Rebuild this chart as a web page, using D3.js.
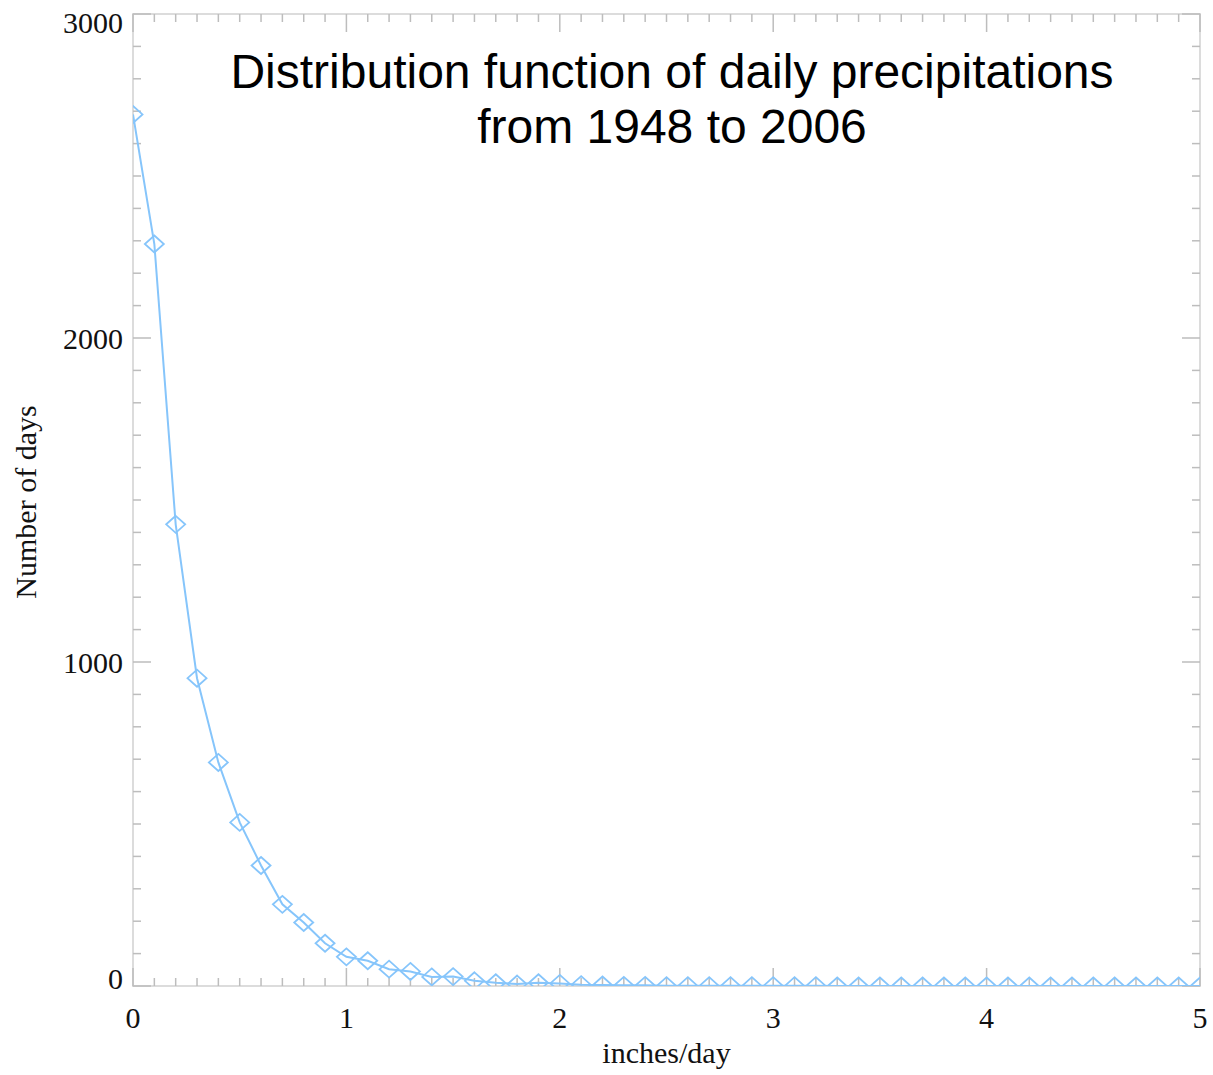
<!DOCTYPE html>
<html>
<head>
<meta charset="utf-8">
<script src="https://cdn.jsdelivr.net/npm/d3@7"></script>
<style>
  html, body { margin: 0; padding: 0; background: #fff; }
  svg { display: block; }
</style>
</head>
<body>
<svg id="chart" width="1213" height="1075"></svg>
<script>
// ---- data ----
const xValues = d3.range(0, 51).map(i => +(i * 0.1).toFixed(1));
const dayCounts = [
  2690, 2290, 1425, 950, 690, 505, 372, 252, 196, 132,
  90, 78, 52, 45, 28, 29, 16, 10, 6, 10,
  8, 4, 3, 2, 2, 1, 1, 1, 1, 1,
  1, 1, 1, 0, 0, 0, 0, 0, 0, 0,
  0, 0, 0, 0, 0, 0, 0, 0, 0, 0, 0
];
const xTickValues = [0, 1, 2, 3, 4, 5];
const yTickValues = [0, 1000, 2000, 3000];
const titleLines = ["Distribution function of daily precipitations", "from 1948 to 2006"];
const xTitle = "inches/day";
const yTitle = "Number of days";

// ---- layout ----
const pLeft = 133, pRight = 1200, pTop = 14, pBottom = 986;
const svg = d3.select("#chart");
const x = d3.scaleLinear().domain([0, 5]).range([pLeft, pRight]);
const y = d3.scaleLinear().domain([0, 3000]).range([pBottom, pTop]);

const frameColor = "#dcdcdc";
const tickColor = "#bdbdbd";
const serif = "'Liberation Serif', 'Times New Roman', serif";

// frame
svg.append("rect")
  .attr("x", pLeft).attr("y", pTop)
  .attr("width", pRight - pLeft).attr("height", pBottom - pTop)
  .attr("fill", "none").attr("stroke", frameColor).attr("stroke-width", 2);

// ticks (all four sides, inward)
const xMinor = d3.range(0, 51).map(i => i / 10);
const yMinor = d3.range(0, 31).map(i => i * 100);
const major = 18, minor = 8;
const tg = svg.append("g").attr("stroke", tickColor).attr("stroke-width", 1.5);
xMinor.forEach(v => {
  const isMajor = Math.abs(v - Math.round(v)) < 1e-6;
  const len = isMajor ? major : minor;
  tg.append("line").attr("x1", x(v)).attr("x2", x(v)).attr("y1", pBottom).attr("y2", pBottom - len);
  tg.append("line").attr("x1", x(v)).attr("x2", x(v)).attr("y1", pTop).attr("y2", pTop + len);
});
yMinor.forEach(v => {
  const isMajor = v % 1000 === 0;
  const len = isMajor ? major : minor;
  tg.append("line").attr("y1", y(v)).attr("y2", y(v)).attr("x1", pLeft).attr("x2", pLeft + len);
  tg.append("line").attr("y1", y(v)).attr("y2", y(v)).attr("x1", pRight).attr("x2", pRight - len);
});

// tick labels
svg.append("g").selectAll("text").data(xTickValues).join("text")
  .attr("x", d => x(d)).attr("y", 1028)
  .attr("text-anchor", "middle")
  .attr("font-family", serif).attr("font-size", 30).attr("fill", "#111")
  .text(d => d);

svg.append("g").selectAll("text").data(yTickValues).join("text")
  .attr("x", 123)
  .attr("y", d => Math.min(Math.max(y(d), pTop + 8), pBottom - 8))
  .attr("dy", "0.35em")
  .attr("text-anchor", "end")
  .attr("font-family", serif).attr("font-size", 30).attr("fill", "#111")
  .text(d => d);

// axis titles
svg.append("text")
  .attr("x", (pLeft + pRight) / 2).attr("y", 1063)
  .attr("text-anchor", "middle")
  .attr("font-family", serif).attr("font-size", 30).attr("fill", "#111")
  .text(xTitle);

svg.append("text")
  .attr("transform", `translate(36, ${(pTop + pBottom) / 2 + 2}) rotate(-90)`)
  .attr("text-anchor", "middle")
  .attr("font-family", serif).attr("font-size", 30).attr("fill", "#111")
  .text(yTitle);

// clip
svg.append("clipPath").attr("id", "plotClip")
  .append("rect").attr("x", pLeft).attr("y", pTop)
  .attr("width", pRight - pLeft).attr("height", pBottom - pTop);

const data = xValues.map((v, i) => ({ x: v, y: dayCounts[i] }));
const lineColor = "#86c5fb";
const plot = svg.append("g").attr("clip-path", "url(#plotClip)");

plot.append("path")
  .datum(data)
  .attr("fill", "none")
  .attr("stroke", lineColor)
  .attr("stroke-width", 2)
  .attr("d", d3.line().x(d => x(d.x)).y(d => y(d.y)));

const hw = 9.5, hh = 8.5;
plot.selectAll("path.marker").data(data).join("path")
  .attr("class", "marker")
  .attr("fill", "none")
  .attr("stroke", lineColor)
  .attr("stroke-width", 1.8)
  .attr("d", d => {
    const cx = x(d.x), cy = y(d.y);
    return `M${cx},${cy - hh}L${cx + hw},${cy}L${cx},${cy + hh}L${cx - hw},${cy}Z`;
  });

// title
const title = svg.append("text")
  .attr("text-anchor", "middle")
  .attr("font-family", "'Liberation Sans', Arial, sans-serif")
  .attr("font-size", 48).attr("fill", "#000");
titleLines.forEach((t, i) => {
  title.append("tspan").attr("x", 672).attr("y", 88 + i * 55).text(t);
});
</script>
</body>
</html>
